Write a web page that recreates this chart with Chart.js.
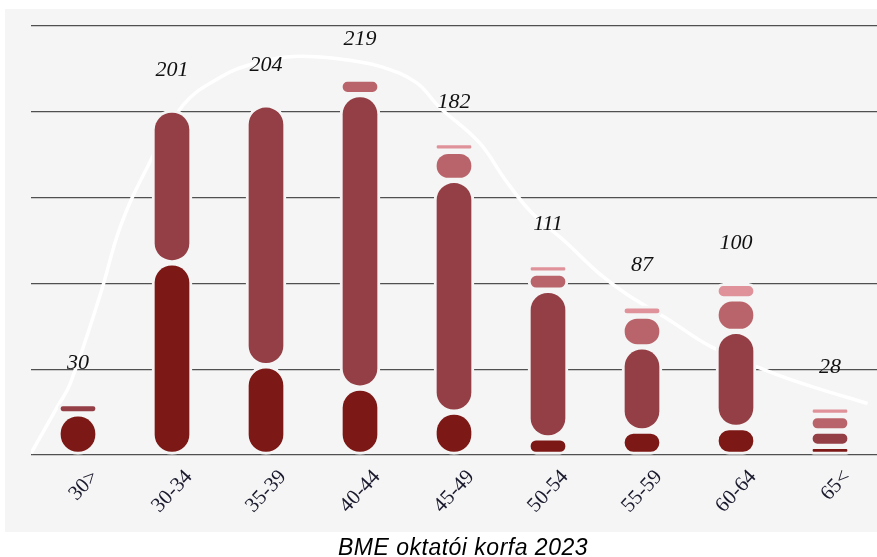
<!DOCTYPE html>
<html>
<head>
<meta charset="utf-8">
<script src="https://cdn.jsdelivr.net/npm/chart.js@4"></script>
<style>
  html, body { margin: 0; padding: 0; background: #fff; }
  #wrap { width: 877px; height: 557px; }
</style>
</head>
<body>
<div id="wrap"><canvas id="korfa" width="877" height="557"></canvas></div>
<script>
ageGroups = ['30>', '30-34', '35-39', '40-44', '45-49', '50-54', '55-59', '60-64', '65<'];

// stacked from the bottom up, darkest first
tier1 = [24, 112, 52, 39, 25, 10, 14, 16, 5];
tier2 = [6, 89, 152, 171, 135, 86, 49, 56, 9];
tier3 = [null, null, null, 9, 17, 10, 18, 19, 9];
tier4 = [null, null, null, null, 5, 5, 6, 9, 5];

tierColors = ['#7c1815', '#943e45', '#b9646a', '#e0929a'];

// white trend curve behind the bars (x in category units)
curveX = [-0.5, -0.22, -0.08, 0.24, 0.45, 0.74, 1.12, 1.51, 1.86, 2.22, 2.57, 2.89, 3.24, 3.6, 3.84, 4.27, 4.55, 4.83, 5.19, 5.54, 5.83, 6.28, 6.74, 7.38, 7.8, 8.4];
curveY = [1, 28, 42, 94, 133, 168, 204, 220, 228, 232, 232, 230, 226, 217, 203, 182, 160, 141, 124, 106, 94, 79, 63, 48, 40, 30];

chartTitle = 'BME oktatói korfa 2023';
panelBg = '#f5f5f5';

datasets = [];

[tier1, tier2, tier3, tier4].forEach((values, index) => {
  datasets.push({
    type: 'bar',
    data: values,
    backgroundColor: tierColors[index],
    borderColor: panelBg,
    borderWidth: 3,
    borderSkipped: false,
    borderRadius: {topLeft: 20, topRight: 20, bottomLeft: 20, bottomRight: 20},
    barThickness: 40,
    grouped: false,
    stack: 'age',
    order: 1
  });
});

datasets.push({
  type: 'line',
  xAxisID: 'x2',
  data: curveX.map((x, i) => ({x: x, y: curveY[i]})),
  borderColor: '#ffffff',
  borderWidth: 3.5,
  tension: 0.4,
  pointRadius: 0,
  fill: false,
  order: 5
});

const panel = {
  id: 'panel',
  beforeDraw(chart) {
    const ctx = chart.ctx;
    ctx.save();
    ctx.fillStyle = '#ffffff';
    ctx.fillRect(0, 0, chart.width, chart.height);
    ctx.fillStyle = panelBg;
    ctx.fillRect(5, 9, 872, 523);
    ctx.restore();
  },
  afterDraw(chart) {
    // caption under the grey panel
    const ctx = chart.ctx;
    ctx.save();
    ctx.font = 'italic 23px "Liberation Sans"';
    ctx.letterSpacing = '0.5px';
    ctx.fillStyle = '#000000';
    ctx.textAlign = 'center';
    ctx.textBaseline = 'alphabetic';
    ctx.fillText(chartTitle, 463, 555);
    ctx.restore();
  }
};

// totals written above each stack
const totals = {
  id: 'totals',
  afterDatasetsDraw(chart) {
    const ctx = chart.ctx;
    const yScale = chart.scales.y;
    const meta = chart.getDatasetMeta(0);
    ctx.save();
    ctx.font = 'italic 22px "Liberation Serif"';
    ctx.fillStyle = '#111111';
    ctx.textAlign = 'center';
    ctx.textBaseline = 'middle';
    ageGroups.forEach((g, i) => {
      let sum = 0;
      [tier1, tier2, tier3, tier4].forEach((t) => { sum += t[i] || 0; });
      const x = meta.data[i].x;
      const y = yScale.getPixelForValue(sum) - 40;
      ctx.fillText(String(sum), x, y);
    });
    ctx.restore();
  }
};

chartConfig = {
  type: 'bar',
  data: { labels: ageGroups, datasets: datasets },
  options: {
    responsive: false,
    animation: false,
    layout: { padding: { left: 31, right: 0, top: 26, bottom: 0 } },
    plugins: {
      legend: { display: false },
      tooltip: { enabled: false }
    },
    scales: {
      x: {
        stacked: true,
        offset: true,
        grid: { display: false },
        border: { display: false },
        ticks: {
          minRotation: 47,
          maxRotation: 47,
          labelOffset: 17,
          padding: 2,
          color: '#1a1a2e',
          font: { family: '"Liberation Serif"', size: 21 }
        },
        afterFit: (scale) => { scale.height = 102; }
      },
      x2: {
        type: 'linear',
        display: false,
        offset: false,
        min: -0.5,
        max: 8.5
      },
      y: {
        stacked: true,
        min: 0,
        max: 250,
        ticks: { display: false, stepSize: 50 },
        grid: { color: '#505050', lineWidth: 1.2, drawTicks: false },
        border: { display: false }
      }
    }
  },
  plugins: [panel, totals]
};

new Chart(document.getElementById('korfa'), chartConfig);
</script>
</body>
</html>
